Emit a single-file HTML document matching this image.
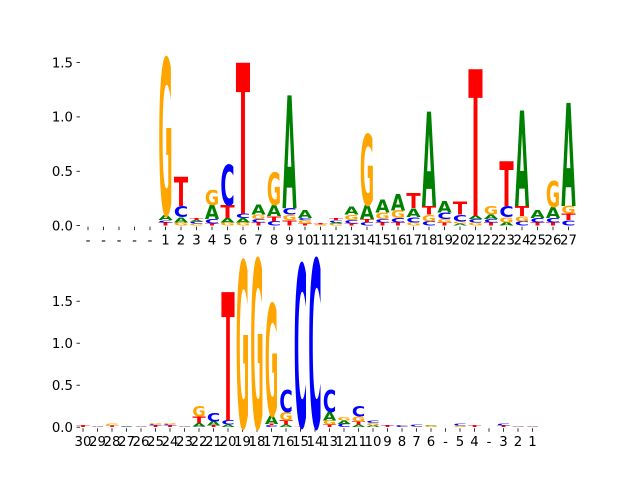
<!DOCTYPE html>
<html><head><meta charset="utf-8"><style>
body{margin:0;background:#fff;}
svg{display:block;font-family:"DejaVu Sans","Liberation Sans",sans-serif;}
</style></head><body>
<svg id="c" width="640" height="480" viewBox="0 0 640 480" xmlns="http://www.w3.org/2000/svg"></svg>
<script>
// Letter order per stack: [letter, height] from bottom to top
const topLabels = ['-','-','-','-','-','1','2','3','4','5','6','7','8','9','10','11','12','13','14','15','16','17','18','19','20','21','22','23','24','25','26','27'];
const topStacks = [
 [],[],[],[],[],
 [['T',.03],['C',.02],['A',.05],['G',1.44]],
 [['G',.03],['A',.05],['C',.1],['T',.27]],
 [['G',.02],['C',.02],['A',.01],['T',.02]],
 [['T',.02],['C',.04],['A',.13],['G',.14]],
 [['G',.03],['A',.04],['T',.12],['C',.37]],
 [['G',.03],['A',.04],['C',.04],['T',1.39]],
 [['T',.03],['C',.03],['G',.04],['A',.09]],
 [['C',.04],['T',.05],['A',.1],['G',.3]],
 [['T',.05],['G',.05],['C',.06],['A',1.04]],
 [['T',.02],['G',.03],['C',.02],['A',.07]],
 [['G',.01],['T',.01]],
 [['G',.02],['A',.01],['C',.02],['T',.02]],
 [['T',.02],['C',.03],['G',.05],['A',.07]],
 [['C',.03],['T',.03],['A',.13],['G',.65]],
 [['T',.03],['C',.03],['G',.06],['A',.12]],
 [['T',.03],['C',.04],['G',.07],['A',.15]],
 [['G',.03],['C',.05],['A',.08],['T',.14]],
 [['C',.04],['G',.06],['T',.08],['A',.87]],
 [['T',.03],['G',.03],['C',.06],['A',.11]],
 [['A',.02],['G',.02],['C',.06],['T',.12]],
 [['G',.03],['C',.03],['A',.03],['T',1.35]],
 [['T',.03],['C',.03],['A',.04],['G',.08]],
 [['A',.03],['G',.05],['C',.1],['T',.41]],
 [['C',.04],['G',.05],['T',.09],['A',.88]],
 [['T',.03],['C',.04],['A',.07]],
 [['T',.03],['C',.04],['A',.1],['G',.24]],
 [['C',.05],['T',.06],['G',.07],['A',.95]]
];
const botLabels = ['30','29','28','27','26','25','24','23','22','21','20','19','18','17','16','15','14','13','12','11','10','9','8','7','6','-','5','4','-','3','2','1'];
const botStacks = [
 [['T',.02]],[['G',.01],['C',.01]],[['T',.02],['G',.02]],[['A',.01],['C',.01]],[['C',.01],['G',.01]],
 [['T',.02],['C',.015],['G',.015]],[['T',.02],['C',.015],['G',.015]],[['C',.01],['G',.01]],
 [['C',.01],['A',.04],['T',.08],['G',.12]],
 [['T',.02],['A',.05],['C',.1]],
 [['A',.03],['C',.05],['T',1.53]],
 [['G',1.98]],
 [['G',2.0]],
 [['C',.02],['T',.02],['A',.1],['G',1.33]],
 [['A',.03],['T',.05],['G',.1],['C',.26]],
 [['T',.01],['C',1.93]],
 [['C',2.0]],
 [['T',.03],['G',.05],['A',.1],['C',.26]],
 [['C',.04],['A',.04],['G',.04]],
 [['A',.03],['T',.04],['G',.06],['C',.12]],
 [['A',.02],['G',.03],['C',.03]],
 [['T',.02],['C',.01]],[['C',.02],['G',.01]],[['G',.01],['C',.02]],[['G',.02],['A',.01]],
 [],[['G',.02],['C',.02]],[['T',.02]],[],[['T',.02],['C',.02]],[['C',.01],['G',.01]],[['G',.01],['C',.01]]
];
const topTicks = [0, 0.5, 1.0, 1.5];
const botTicks = [0, 0.5, 1.0, 1.5];

const NS='http://www.w3.org/2000/svg';
const svg=document.getElementById('c');
const colors={A:'#008000',C:'#0000ff',G:'#ffa500',T:'#ff0000'};
function mk(t,a){const e=document.createElementNS(NS,t);for(const k in a)e.setAttribute(k,a[k]);return e;}

function panel(name, stacks, labels, ticks, x0, dx, yBase, pxPerUnit){
  const g=mk('g',{});
  
  
  svg.appendChild(g);
  const xs=i=>x0+dx*i;
  const ys=v=>yBase-v*pxPerUnit;
  // y ticks
  ticks.forEach(t=>{
    const y=ys(t);
    const l=mk('line',{x1:76.5,x2:80,y1:y,y2:y,stroke:'#000','stroke-width':0.8});
    
    
    g.appendChild(l);
    const tx=mk('text',{x:73,y:y+4.8,'font-size':13.3,'text-anchor':'end',fill:'#000'});
    tx.textContent=t.toFixed(1);
    
    
    g.appendChild(tx);
  });
  // x ticks
  labels.forEach((lab,i)=>{
    const x=xs(i);
    const l=mk('line',{x1:x,x2:x,y1:yBase+1,y2:yBase+4.5,stroke:'#000','stroke-width':0.8});
    
    
    g.appendChild(l);
    const tx=mk('text',{x:x,y:yBase+19,'font-size':13.3,'text-anchor':'middle',fill:'#000'});
    tx.textContent=lab;
    
    
    g.appendChild(tx);
  });
  // letters
  const w=dx*0.92;
  stacks.forEach((st,i)=>{
    let cum=0;
    st.forEach(([L,h])=>{
      const yb=ys(cum), hp=h*pxPerUnit;
      cum+=h;
      if(hp<0.3) return;
      const t=mk('text',{x:0,y:0,'font-size':100,'font-weight':'bold',fill:colors[L],
        textLength:100*0.72,lengthAdjust:'spacingAndGlyphs',
        transform:`translate(${xs(i)-w/2},${yb}) scale(${w/72},${hp/73})`});
      t.textContent=L;
      
      
      g.appendChild(t);
    });
  });
}
panel('top-logo-panel', topStacks, topLabels, topTicks, 88, 15.5, 225.6, 108.7);
panel('bottom-logo-panel', botStacks, botLabels, botTicks, 83, 14.5, 427.2, 84);
</script>
</body></html>
